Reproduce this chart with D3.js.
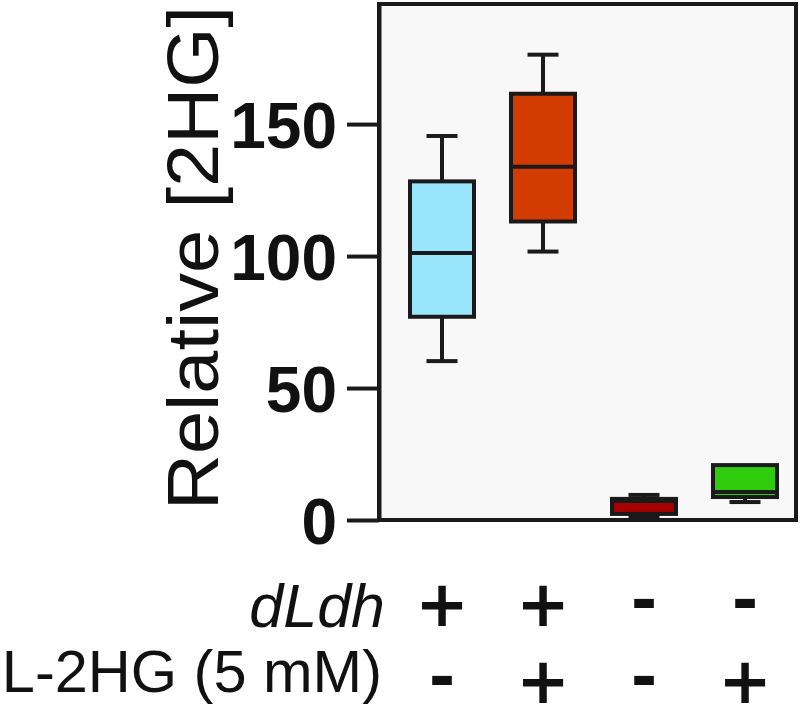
<!DOCTYPE html>
<html>
<head>
<meta charset="utf-8">
<script src="https://cdn.jsdelivr.net/npm/d3@7"></script>
<style>
  html, body { margin: 0; padding: 0; background: #ffffff; }
  svg { display: block; }
</style>
</head>
<body>
<svg id="chart" width="803" height="722"></svg>
<script>
// ---- data ----
const groups   = ["g1", "g2", "g3", "g4"];
const mins     = [60.2, 101.7, 1.5, 6.8];
const q1s      = [77.0, 113.1, 2.3, 8.7];
const medians  = [101.2, 133.8, 7.2, 10.6];
const q3s      = [128.3, 161.5, 8.0, 20.8];
const maxs     = [145.5, 176.3, 9.5, 20.8];
const colors   = ["#99e6fc", "#d23c00", "#a80000", "#2ecc0c"];
const dLdh     = ["+", "+", "-", "-"];
const l2hg     = ["-", "+", "-", "+"];
const yTicks   = [0, 50, 100, 150];
const yTitle   = "Relative [2HG]";
const rowLabels = ["dLdh", "L-2HG (5 mM)"];

// ---- layout ----
const svg = d3.select("#chart");
const pLeft = 379, pRight = 796, pTop = 4, pBottom = 520;
const ink = "#1a1a1a";
const font = "'Liberation Sans', Arial, Helvetica, sans-serif";

const y = d3.scaleLinear().domain([0, 195.5]).range([pBottom, pTop]);
const x = d3.scalePoint().domain(groups).range([442, 745]);
const boxW = 64, capW = 31, sw = 4;

// plot background + frame
svg.append("rect")
  .attr("x", pLeft).attr("y", pTop)
  .attr("width", pRight - pLeft).attr("height", pBottom - pTop)
  .attr("fill", "#f8f8f8")
  .attr("stroke", ink).attr("stroke-width", sw);

// y axis
const yAxis = svg.append("g")
  .attr("transform", `translate(${pLeft},0)`)
  .call(d3.axisLeft(y).tickValues(yTicks).tickSize(32).tickPadding(10).tickSizeOuter(0));
yAxis.select(".domain").attr("stroke", ink).attr("stroke-width", sw);
yAxis.selectAll(".tick line").attr("stroke", ink).attr("stroke-width", sw);
yAxis.selectAll(".tick text")
  .attr("fill", "#111")
  .style("font-family", font)
  .style("font-weight", "bold")
  .style("font-size", "64px")
  .attr("dy", "0.36em");

// y title
svg.append("text")
  .attr("transform", `translate(218, ${(pTop + pBottom) / 2 - 4}) rotate(-90)`)
  .attr("text-anchor", "middle")
  .style("font-family", font)
  .style("font-size", "72px")
  .attr("textLength", 504)
  .attr("lengthAdjust", "spacingAndGlyphs")
  .attr("fill", "#111")
  .text(yTitle);

// boxes
const data = groups.map((g, i) => ({
  g, min: mins[i], q1: q1s[i], med: medians[i], q3: q3s[i], max: maxs[i], color: colors[i]
}));

const bx = svg.append("g");
data.forEach(d => {
  const cx = x(d.g);
  const gg = bx.append("g");
  if (d.max > d.q3) {
    gg.append("line").attr("x1", cx).attr("x2", cx).attr("y1", y(d.q3)).attr("y2", y(d.max))
      .attr("stroke", ink).attr("stroke-width", sw);
    gg.append("line").attr("x1", cx - capW / 2).attr("x2", cx + capW / 2).attr("y1", y(d.max)).attr("y2", y(d.max))
      .attr("stroke", ink).attr("stroke-width", sw);
  }
  if (d.min < d.q1) {
    gg.append("line").attr("x1", cx).attr("x2", cx).attr("y1", y(d.q1)).attr("y2", y(d.min))
      .attr("stroke", ink).attr("stroke-width", sw);
    gg.append("line").attr("x1", cx - capW / 2).attr("x2", cx + capW / 2).attr("y1", y(d.min)).attr("y2", y(d.min))
      .attr("stroke", ink).attr("stroke-width", sw);
  }
  gg.append("rect")
    .attr("x", cx - boxW / 2).attr("width", boxW)
    .attr("y", y(d.q3)).attr("height", y(d.q1) - y(d.q3))
    .attr("fill", d.color).attr("stroke", ink).attr("stroke-width", sw);
  gg.append("line").attr("x1", cx - boxW / 2).attr("x2", cx + boxW / 2)
    .attr("y1", y(d.med)).attr("y2", y(d.med))
    .attr("stroke", ink).attr("stroke-width", sw);
});

// row labels
const rowY = [602, 679];
svg.append("text")
  .attr("x", 385).attr("y", 627)
  .attr("text-anchor", "end")
  .style("font-family", font).style("font-style", "italic").style("font-size", "61px")
  .attr("fill", "#111").text(rowLabels[0]);
svg.append("text")
  .attr("x", 382).attr("y", 692)
  .attr("text-anchor", "end")
  .style("font-family", font).style("font-size", "59.5px")
  .attr("fill", "#111").text(rowLabels[1]);

const signFont = "'DejaVu Sans', sans-serif";
[dLdh, l2hg].forEach((row, r) => {
  svg.append("g").selectAll("text").data(row).join("text")
    .attr("x", (d, i) => x(groups[i]))
    .attr("y", rowY[r])
    .attr("dy", d => d === "+" ? "0.37em" : "0.31em")
    .attr("text-anchor", "middle")
    .style("font-family", signFont).style("font-weight", "bold").style("font-size", "64px")
    .attr("fill", "#111")
    .text(d => d);
});
</script>
</body>
</html>
